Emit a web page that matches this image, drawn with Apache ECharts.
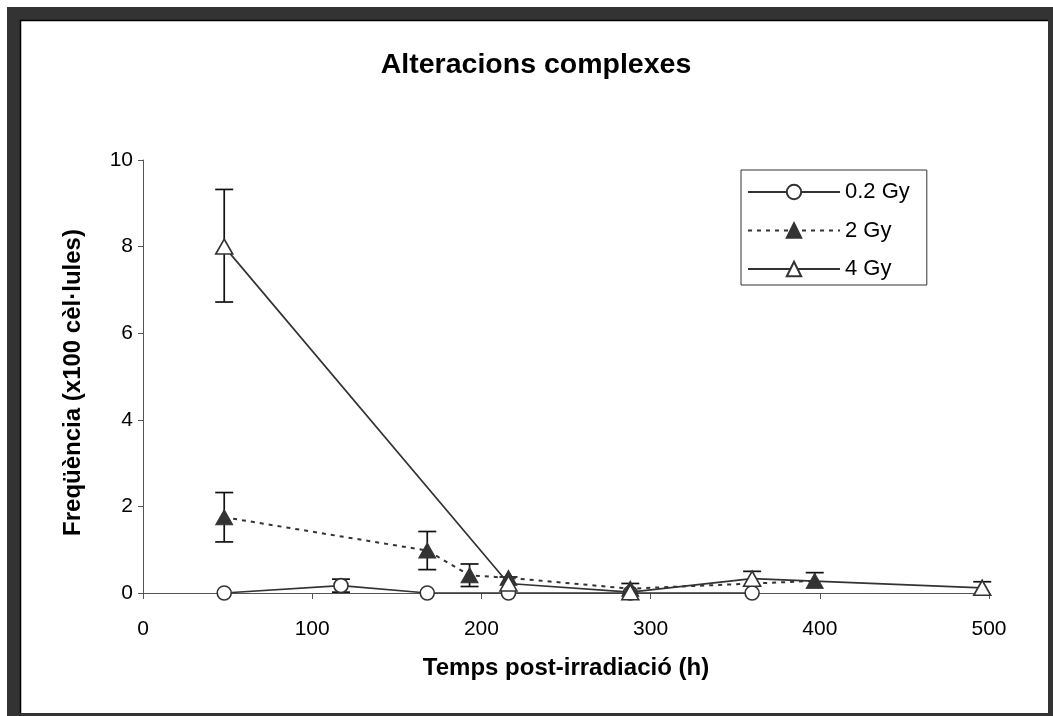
<!DOCTYPE html>
<html>
<head>
<meta charset="utf-8">
<script src="https://cdn.jsdelivr.net/npm/echarts@6/dist/echarts.min.js"></script>
<style>
html,body{margin:0;padding:0;background:#fff;}
#chart{width:1053px;height:716px;}
</style>
</head>
<body>
<div id="chart"></div>
<script>
// ---- data ----
const titleText = 'Alteracions complexes';
const xAxisTitle = 'Temps post-irradiació (h)';
const yAxisTitle = 'Freqüència (x100 cèl·lules)';
const seriesNames = ['0.2 Gy', '2 Gy', '4 Gy'];

const hours02 = [48, 117, 168, 216, 288, 360];
const values02 = [0, 0.17, 0, 0, 0, 0];
const errUp02 = [0, 0.15, 0, 0, 0, 0];
const errDown02 = [0, 0.15, 0, 0, 0, 0];

const hours2 = [48, 168, 193, 216, 288, 397];
const values2 = [1.75, 0.98, 0.41, 0.35, 0.1, 0.28];
const errUp2 = [0.57, 0.44, 0.26, 0, 0, 0.19];
const errDown2 = [0.57, 0.44, 0.26, 0, 0, 0];

const hours4 = [48, 216, 288, 360, 496];
const values4 = [8.0, 0.22, 0.02, 0.33, 0.12];
const errUp4 = [1.32, 0.15, 0.2, 0.17, 0.14];
const errDown4 = [1.28, 0, 0, 0, 0];

const xTicks = [0, 100, 200, 300, 400, 500];
const yTicks = [0, 2, 4, 6, 8, 10];

// ---- chart ----
const INK = '#333333';
const FONT = '"Liberation Sans", Arial, sans-serif';

function pairs(xs, ys) { return xs.map((x, i) => [x, ys[i]]); }

function errorSeries(name, xs, ys, up, down) {
  return {
    type: 'custom',
    name: name,
    z: 1,
    silent: true,
    clip: false,
    data: xs.map((x, i) => [x, ys[i], ys[i] + up[i], ys[i] - down[i], up[i], down[i]]),
    encode: { x: 0, y: [2, 3] },
    renderItem: function (params, api) {
      const x = api.value(0);
      const mid = api.coord([x, api.value(1)]);
      const hi = api.coord([x, api.value(2)]);
      const lo = api.coord([x, api.value(3)]);
      const cap = 9;
      const st = { stroke: '#111', lineWidth: 1.7 };
      const children = [];
      if (api.value(4) > 0) {
        children.push({ type: 'line', shape: { x1: mid[0], y1: mid[1], x2: hi[0], y2: hi[1] }, style: st });
        children.push({ type: 'line', shape: { x1: hi[0] - cap, y1: hi[1], x2: hi[0] + cap, y2: hi[1] }, style: st });
      }
      if (api.value(5) > 0) {
        children.push({ type: 'line', shape: { x1: mid[0], y1: mid[1], x2: lo[0], y2: lo[1] }, style: st });
        children.push({ type: 'line', shape: { x1: lo[0] - cap, y1: lo[1], x2: lo[0] + cap, y2: lo[1] }, style: st });
      }
      return { type: 'group', children: children };
    }
  };
}

const chart = echarts.init(document.getElementById('chart'), null, { renderer: 'canvas' });

chart.setOption({
  animation: false,
  backgroundColor: '#ffffff',
  graphic: [
    { type: 'rect', z: -10, shape: { x: 7, y: 7, width: 1046, height: 709 }, style: { fill: '#333333' } },
    { type: 'rect', z: -9, shape: { x: 20, y: 20, width: 1028, height: 693 }, style: { fill: '#ffffff' } },
    { type: 'polyline', z: -8, shape: { points: [[20.5, 713], [20.5, 20.5], [1048, 20.5]] }, style: { stroke: '#000', lineWidth: 1.5, fill: null } }
  ],
  title: {
    text: titleText,
    left: 531,
    top: 46,
    textAlign: 'center',
    textStyle: { fontFamily: FONT, fontSize: 28.5, fontWeight: 'bold', color: '#000' }
  },
  legend: {
    data: seriesNames,
    orient: 'vertical',
    left: 741,
    top: 170,
    itemWidth: 92,
    itemHeight: 18,
    itemGap: 14.5,
    padding: [10, 17, 4, 6],
    borderColor: '#333',
    borderWidth: 1,
    backgroundColor: '#fff',
    textStyle: { fontFamily: FONT, fontSize: 22, color: '#000', lineHeight: 24 }
  },
  grid: { left: 143, right: 64, top: 160, bottom: 123 },
  xAxis: {
    type: 'value',
    min: 0, max: 500, interval: 100,
    name: xAxisTitle,
    nameLocation: 'middle',
    nameGap: 63,
    nameTextStyle: { fontFamily: FONT, fontSize: 24, fontWeight: 'bold', color: '#000' },
    axisLine: { show: true, onZero: false, lineStyle: { color: '#555', width: 1 } },
    axisTick: { show: true, inside: false, length: 6, lineStyle: { color: '#555' } },
    axisLabel: { margin: 26, fontFamily: FONT, fontSize: 21, color: '#000',
      formatter: function (v) { return xTicks.indexOf(v) >= 0 ? String(v) : ''; } },
    splitLine: { show: false }
  },
  yAxis: {
    type: 'value',
    min: 0, max: 10, interval: 2,
    name: yAxisTitle,
    nameLocation: 'middle',
    nameGap: 58,
    nameTextStyle: { fontFamily: FONT, fontSize: 24, fontWeight: 'bold', color: '#000', padding: [0, 12, 0, 0] },
    axisLine: { show: true, lineStyle: { color: '#555', width: 1 } },
    axisTick: { show: true, inside: false, length: 5, lineStyle: { color: '#555' } },
    axisLabel: { margin: 10, fontFamily: FONT, fontSize: 21, color: '#000',
      formatter: function (v) { return yTicks.indexOf(v) >= 0 ? String(v) : ''; } },
    splitLine: { show: false }
  },
  series: [
    errorSeries('err02', hours02, values02, errUp02, errDown02),
    errorSeries('err2', hours2, values2, errUp2, errDown2),
    errorSeries('err4', hours4, values4, errUp4, errDown4),
    {
      name: seriesNames[0], type: 'line', z: 3,
      data: pairs(hours02, values02),
      symbol: 'circle', symbolSize: 14,
      itemStyle: { color: '#fff', borderColor: INK, borderWidth: 1.6 },
      lineStyle: { color: INK, width: 1.7, type: 'solid' }
    },
    {
      name: seriesNames[1], type: 'line', z: 4,
      data: pairs(hours2, values2),
      symbol: 'triangle', symbolSize: [17, 15],
      itemStyle: { color: INK, borderColor: INK, borderWidth: 1 },
      lineStyle: { color: INK, width: 2, type: [4, 5] }
    },
    {
      name: seriesNames[2], type: 'line', z: 5,
      data: pairs(hours4, values4),
      symbol: 'triangle', symbolSize: [17, 15],
      itemStyle: { color: '#fff', borderColor: INK, borderWidth: 1.6 },
      lineStyle: { color: INK, width: 1.7, type: 'solid' }
    }
  ]
});
</script>
</body>
</html>
